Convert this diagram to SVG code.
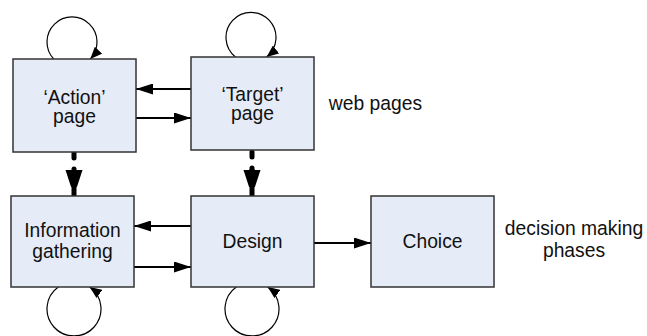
<svg xmlns="http://www.w3.org/2000/svg" width="647" height="336" viewBox="0 0 647 336">
  <defs>
    <style>
      .box { fill: #E6ECF7; stroke: #333333; stroke-width: 1.5; }
      .lbl { font-family: "Liberation Sans", Arial, sans-serif; font-size: 19.3px; fill: #111111; text-anchor: middle; }
      .link { fill: none; stroke: #000000; stroke-width: 2; }
      .loop { fill: none; stroke: #000000; stroke-width: 1.2; }
      .flow { fill: none; stroke: #000000; stroke-width: 5; stroke-linecap: round; }
    </style>
    <marker id="head" markerUnits="userSpaceOnUse" markerWidth="17" markerHeight="11" refX="17" refY="5.5" orient="auto">
      <path d="M0,0 L17,5.5 L0,11 z" fill="#000000"/>
    </marker>
    <marker id="loophead" markerUnits="userSpaceOnUse" markerWidth="12" markerHeight="10" refX="12" refY="5" orient="auto">
      <path d="M0,0 L12,5 L0,10 z" fill="#000000"/>
    </marker>
    <marker id="bighead" markerUnits="userSpaceOnUse" markerWidth="17" markerHeight="26" refX="26" refY="8.5" orient="auto">
      <path d="M0,0 L26,8.5 L0,17 z" fill="#000000"/>
    </marker>
  </defs>

  <rect width="647" height="336" fill="#FFFFFF"/>

  <!-- connectors -->
  <g id="connectors">
    <!-- self loops -->
    <path class="loop" d="M53.7,59 A25,25 0 1 1 90.3,59" marker-end="url(#loophead)"/>
    <path class="loop" d="M235.4,57 A25,25 0 1 1 266.6,57" marker-end="url(#loophead)"/>
    <path class="loop" d="M58.3,287 A27,27 0 1 0 89.7,287" marker-end="url(#loophead)"/>
    <path class="loop" d="M236.3,287 A27,27 0 1 0 267.7,287" marker-end="url(#loophead)"/>
    <!-- page links -->
    <line class="link" x1="191" y1="89" x2="136" y2="89" marker-end="url(#head)"/>
    <line class="link" x1="136" y1="118" x2="191" y2="118" marker-end="url(#head)"/>
    <!-- phase links -->
    <line class="link" x1="191" y1="226" x2="134" y2="226" marker-end="url(#head)"/>
    <line class="link" x1="134" y1="267" x2="191" y2="267" marker-end="url(#head)"/>
    <line class="link" x1="314" y1="243" x2="371" y2="243" marker-end="url(#head)"/>
    <!-- page to phase mapping -->
    <path class="flow" d="M74,153 V158"/>
    <path class="flow" d="M74,169 V172"/>
    <line x1="74" y1="170" x2="74" y2="196" stroke="#000" stroke-width="5" marker-end="url(#bighead)"/>
    <path class="flow" d="M252,152 V157"/>
    <path class="flow" d="M252,168 V171"/>
    <line x1="252" y1="169" x2="252" y2="196" stroke="#000" stroke-width="5" marker-end="url(#bighead)"/>
  </g>

  <g id="action-page">
    <rect class="box" x="13" y="59" width="123" height="93"/>
    <text class="lbl" x="74.5" y="104">‘Action’</text>
    <text class="lbl" x="74.5" y="123">page</text>
  </g>

  <g id="target-page">
    <rect class="box" x="191" y="57" width="123" height="93"/>
    <text class="lbl" x="252.5" y="101">‘Target’</text>
    <text class="lbl" x="252.5" y="120">page</text>
  </g>

  <g id="information-gathering">
    <rect class="box" x="11" y="196" width="123" height="91"/>
    <text class="lbl" x="72.5" y="237">Information</text>
    <text class="lbl" x="72.5" y="258">gathering</text>
  </g>

  <g id="design">
    <rect class="box" x="191" y="196" width="123" height="91"/>
    <text class="lbl" x="252.5" y="248">Design</text>
  </g>

  <g id="choice">
    <rect class="box" x="371" y="196" width="123" height="91"/>
    <text class="lbl" x="432.5" y="248">Choice</text>
  </g>

  <g id="web-pages-label">
    <text class="lbl" x="375.5" y="110">web pages</text>
  </g>

  <g id="phases-label">
    <text class="lbl" x="574" y="235">decision making</text>
    <text class="lbl" x="574" y="257">phases</text>
  </g>
</svg>
